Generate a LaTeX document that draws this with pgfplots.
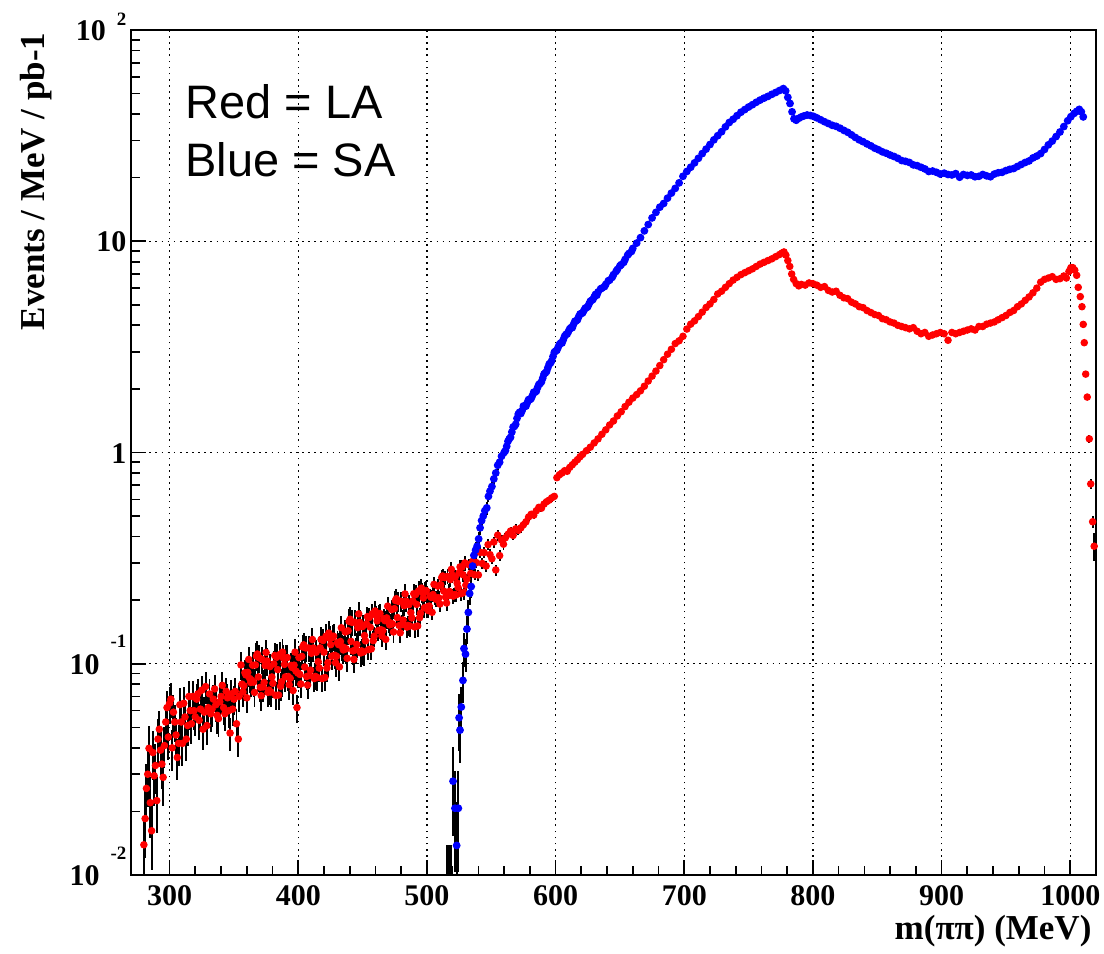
\documentclass[border=0pt]{standalone}
\usepackage{fontspec}
\setmainfont{Liberation Serif}
\newfontfamily\arialfont{Liberation Sans}
\usepackage{pgfplots}
\usepackage{pgfplotstable}
\pgfplotsset{compat=1.18}
\definecolor{rootred}{RGB}{255,0,0}
\definecolor{rootblue}{RGB}{0,0,255}
\newcommand\tickfont{\fontsize{10.8pt}{12pt}\selectfont\bfseries}
\newcommand\expfont{\fontsize{6.8pt}{7pt}\selectfont\bfseries}

% LA (red): mass, events, relative error
\pgfplotstableread{
x y e
280 0.0139 0.35
281 0.0185 0.35
282 0.0257 0.30
283 0.0300 0.30
284 0.0398 0.28
285 0.0220 0.32
286 0.0162 0.35
287 0.0380 0.26
288 0.0295 0.28
289 0.0330 0.27
290 0.0225 0.30
291 0.0440 0.24
292 0.0490 0.22
293 0.0390 0.25
294 0.0335 0.24
295 0.0290 0.27
296 0.0410 0.22
297 0.0530 0.21
298 0.0620 0.20
299 0.0450 0.22
300 0.0650 0.20
301 0.0680 0.19
302 0.0400 0.22
303 0.0590 0.20
304 0.0530 0.20
305 0.0460 0.21
306 0.0360 0.22
307 0.0420 0.22
308 0.0640 0.20
309 0.0530 0.20
310 0.0420 0.22
311 0.0650 0.19
312 0.0560 0.20
313 0.0440 0.21
314 0.0510 0.20
315 0.0700 0.18
316 0.0600 0.19
317 0.0520 0.20
318 0.0700 0.18
319 0.0600 0.19
320 0.0560 0.19
321 0.0680 0.18
322 0.0720 0.18
323 0.0540 0.19
324 0.0610 0.19
325 0.0750 0.17
326 0.0490 0.20
327 0.0590 0.18
328 0.0780 0.17
329 0.0510 0.19
330 0.0620 0.18
331 0.0720 0.17
332 0.0580 0.18
333 0.0610 0.18
334 0.0680 0.17
335 0.0760 0.16
336 0.0640 0.17
337 0.0570 0.18
338 0.0550 0.18
339 0.0660 0.17
340 0.0700 0.17
341 0.0790 0.16
342 0.0620 0.17
343 0.0580 0.17
344 0.0740 0.16
345 0.0690 0.16
346 0.0600 0.17
347 0.0470 0.18
348 0.0720 0.16
349 0.0610 0.17
350 0.0680 0.16
351 0.0740 0.16
352 0.0520 0.18
353.4 0.0440 0.18
354 0.0700 0.16
355.5 0.0987 0.15
357 0.0735 0.15
358.5 0.0907 0.15
360 0.0690 0.15
361.5 0.1048 0.15
363 0.0816 0.15
364.5 0.0984 0.15
366 0.0732 0.15
367.5 0.1087 0.15
369 0.0866 0.15
370.5 0.0774 0.15
372 0.1048 0.15
373.5 0.0816 0.15
375 0.1131 0.15
376.5 0.0732 0.15
378 0.0969 0.15
379.5 0.0866 0.15
381 0.0998 0.15
382.5 0.0709 0.15
384 0.0938 0.15
385.5 0.1105 0.15
387 0.0822 0.15
388.5 0.1063 0.15
390 0.0867 0.15
391.5 0.1070 0.15
393 0.0796 0.15
394.5 0.0982 0.15
396 0.0747 0.15
397.5 0.1135 0.15
399 0.0620 0.15
400.5 0.1070 0.14
402 0.0802 0.14
403.5 0.1201 0.14
405 0.0965 0.14
406.5 0.0870 0.14
408 0.1187 0.14
409.5 0.0933 0.14
411 0.1302 0.14
412.5 0.0851 0.14
414 0.1134 0.14
415.5 0.1023 0.14
417 0.1189 0.14
418.5 0.0851 0.14
420 0.1135 0.14
421.5 0.1349 0.14
423 0.1012 0.14
424.5 0.1319 0.14
426 0.1085 0.14
427.5 0.1350 0.14
429 0.1012 0.14
430.5 0.1260 0.14
432 0.0967 0.14
433.5 0.1481 0.14
435 0.1163 0.14
436.5 0.1414 0.14
438 0.1061 0.14
439.5 0.1587 0.14
441 0.1276 0.14
442.5 0.1150 0.14
444 0.1570 0.14
445.5 0.1233 0.14
447 0.1722 0.14
448.5 0.1125 0.14
450 0.1500 0.14
451.5 0.1360 0.11
453 0.1545 0.11
454.5 0.1165 0.11
456 0.1488 0.11
457.5 0.1725 0.11
459 0.1351 0.11
460.5 0.1694 0.11
462 0.1434 0.11
463.5 0.1729 0.11
465 0.1354 0.11
466.5 0.1632 0.11
468 0.1304 0.11
469.5 0.1874 0.11
471 0.1527 0.11
472.5 0.1805 0.11
474 0.1414 0.11
475.5 0.1992 0.11
477 0.1655 0.11
478.5 0.1517 0.11
480 0.1977 0.11
481.5 0.1611 0.11
483 0.2140 0.11
484.5 0.1491 0.11
486 0.1905 0.11
487.5 0.1746 0.11
489 0.1984 0.11
490.5 0.1495 0.11
492 0.1910 0.11
493.5 0.2213 0.11
495 0.1734 0.11
496.5 0.2173 0.11
498 0.1841 0.11
499.5 0.2219 0.11
501 0.1786 0.08
502.5 0.2095 0.08
504 0.1752 0.08
505.5 0.2376 0.08
507 0.2019 0.08
508.5 0.2331 0.08
510 0.1918 0.08
511.5 0.2559 0.08
513 0.2210 0.08
514.5 0.2069 0.08
516 0.2588 0.08
517.5 0.2200 0.08
519 0.2797 0.08
520.5 0.2090 0.08
522 0.2573 0.08
523.5 0.2408 0.08
525 0.2692 0.08
526.5 0.2145 0.08
528 0.2641 0.08
529.5 0.3000 0.08
531 0.2518 0.06
532.5 0.2945 0.06
534 0.2677 0.06
535.5 0.3054 0.06
537 0.2638 0.06
538.5 0.3010 0.06
540 0.2633 0.06
541.5 0.3366 0.06
543 0.2983 0.06
544.5 0.3360 0.06
546 0.2902 0.06
547.5 0.3664 0.06
549 0.3287 0.06
550.5 0.3142 0.06
552 0.3771 0.06
553.5 0.2780 0.06
555 0.4062 0.06
556.5 0.3251 0.06
558 0.3853 0.06
559.5 0.3682 0.06
561 0.3950 0.05
563 0.4100 0.05
565 0.4250 0.05
567 0.4050 0.05
569 0.4350 0.05
571 0.4280 0.05
573 0.4400 0.05
575 0.4550 0.04
577 0.4700 0.04
579 0.4950 0.04
581 0.5100 0.04
583 0.5050 0.04
585 0.5300 0.04
587 0.5500 0.04
589 0.5450 0.04
591 0.5700 0.04
593 0.5850 0.04
595 0.5950 0.04
597 0.6100 0.04
599 0.6200 0.04
601 0.7600 0.03
603 0.7850 0.03
605 0.8000 0.03
607 0.8200 0.03
609 0.8150 0.03
611 0.8500 0.03
613 0.8750 0.03
615 0.9000 0.03
617 0.9250 0.03
619 0.9550 0.03
621 0.9800 0.03
624 1.0200 0.025
627 1.0600 0.025
630 1.1100 0.025
633 1.1600 0.025
636 1.2200 0.025
639 1.2800 0.025
642 1.3500 0.02
645 1.4100 0.02
648 1.4900 0.02
651 1.5600 0.02
654 1.6500 0.02
657 1.7300 0.02
660 1.8100 0.02
663 1.8800 0.02
666 1.9600 0.02
669 2.0600 0.02
672 2.1800 0.02
675 2.3000 0.02
678 2.4300 0.02
681 2.5800 0.02
684 2.7500 0.02
687 2.9200 0.02
690 3.0800 0.015
693 3.2800 0.015
696 3.3800 0.015
699 3.5500 0.015
702 3.8400 0.015
705 4.0500 0.015
708 4.2000 0.015
711 4.4000 0.015
714 4.6200 0.015
717 4.8600 0.015
720 5.0500 0.015
723 5.3000 0.015
726 5.6300 0.015
729 5.8000 0.015
732 6.0500 0.015
735 6.3000 0.015
738 6.5500 0.015
741 6.7500 0.015
744 6.9500 0.015
747 7.1000 0.015
750 7.2500 0.015
753 7.4000 0.015
756 7.6000 0.015
759 7.8000 0.015
762 7.9500 0.015
765 8.1000 0.015
768 8.2500 0.015
771 8.4500 0.015
774 8.6500 0.015
776 8.8000 0.015
777.5 8.9000 0.015
779 8.6000 0.015
780.5 8.1000 0.015
782 7.6000 0.015
783.5 7.0000 0.015
785 6.6000 0.015
787 6.3000 0.015
789 6.1500 0.015
791 6.2500 0.015
794 6.2000 0.015
797 6.3500 0.015
800 6.3000 0.015
803 6.2000 0.015
806 6.0500 0.015
809 6.1000 0.015
812 5.8500 0.015
815 5.7500 0.015
818 5.8000 0.015
821 5.5500 0.015
824 5.4000 0.015
827 5.3500 0.015
830 5.1500 0.015
833 5.0500 0.015
836 4.9000 0.015
839 4.8500 0.015
842 4.7000 0.015
845 4.6000 0.015
848 4.5000 0.015
851 4.4500 0.015
854 4.3000 0.015
857 4.2500 0.015
860 4.1500 0.015
863 4.1000 0.015
866 4.0000 0.015
869 3.9500 0.015
872 3.9000 0.015
875 3.8500 0.015
878 3.9000 0.015
881 3.7500 0.015
884 3.6500 0.015
887 3.7000 0.015
890 3.5500 0.015
893 3.6000 0.015
896 3.6500 0.015
899 3.7000 0.015
902 3.6500 0.015
905 3.4000 0.015
908 3.7000 0.015
911 3.6500 0.015
914 3.7000 0.015
917 3.7500 0.015
920 3.8000 0.015
923 3.8500 0.015
926 3.8000 0.015
929 3.9500 0.015
932 3.9500 0.015
935 4.0500 0.015
938 4.1000 0.015
941 4.1500 0.015
944 4.2500 0.015
947 4.3500 0.015
950 4.4500 0.015
953 4.6000 0.015
956 4.7000 0.015
959 4.9000 0.015
962 5.0500 0.015
965 5.2500 0.015
968 5.4500 0.015
971 5.7000 0.015
974 6.0000 0.015
977 6.4000 0.015
980 6.6000 0.015
983 6.7000 0.015
986 6.8000 0.015
989 6.6000 0.015
992 6.6500 0.015
995 6.8500 0.015
997 6.7000 0.015
999 7.2000 0.015
1000.5 7.5000 0.015
1002 7.5000 0.015
1003.5 7.3000 0.015
1005 6.9000 0.015
1006.2 6.0500 0.02
1007.8 5.4700 0.02
1009.1 4.9000 0.02
1010.1 4.0400 0.02
1010.9 3.3100 0.02
1012 2.3500 0.03
1013.2 1.8300 0.03
1014.8 1.1600 0.04
1015.9 0.7100 0.05
1017.4 0.4700 0.07
1018.6 0.3600 0.15
}\redtab

% LA (red), interleaved bins 356-531
\pgfplotstableread{
x y e
356.25 0.0801 0.15
357.75 0.0787 0.15
359.25 0.0886 0.15
360.75 0.0910 0.15
362.25 0.0852 0.15
363.75 0.0836 0.15
365.25 0.0818 0.15
366.75 0.0987 0.15
368.25 0.1112 0.15
369.75 0.1065 0.15
371.25 0.0706 0.15
372.75 0.0777 0.15
374.25 0.0981 0.15
375.75 0.1031 0.15
377.25 0.0750 0.15
378.75 0.0735 0.15
380.25 0.0808 0.15
381.75 0.1094 0.15
383.25 0.1073 0.15
384.75 0.0711 0.15
386.25 0.0782 0.15
387.75 0.1135 0.15
389.25 0.0993 0.15
390.75 0.1066 0.15
392.25 0.0870 0.15
393.75 0.0853 0.15
395.25 0.0960 0.15
396.75 0.0985 0.15
398.25 0.0922 0.15
399.75 0.0904 0.15
401.25 0.0890 0.14
402.75 0.1083 0.14
404.25 0.1229 0.14
405.75 0.1188 0.14
407.25 0.0793 0.14
408.75 0.0881 0.14
410.25 0.1121 0.14
411.75 0.1187 0.14
413.25 0.0871 0.14
414.75 0.0861 0.14
416.25 0.0954 0.14
417.75 0.1303 0.14
419.25 0.1288 0.14
420.75 0.0861 0.14
422.25 0.0955 0.14
423.75 0.1397 0.14
425.25 0.1232 0.14
426.75 0.1334 0.14
428.25 0.1097 0.14
429.75 0.1085 0.14
431.25 0.1232 0.14
432.75 0.1275 0.14
434.25 0.1204 0.14
435.75 0.1191 0.14
437.25 0.1177 0.14
438.75 0.1432 0.14
440.25 0.1625 0.14
441.75 0.1570 0.14
443.25 0.1049 0.14
444.75 0.1165 0.14
446.25 0.1482 0.14
447.75 0.1570 0.14
449.25 0.1151 0.14
450.75 0.1138 0.14
452.25 0.1283 0.11
453.75 0.1671 0.11
455.25 0.1656 0.11
456.75 0.1176 0.11
458.25 0.1286 0.11
459.75 0.1778 0.11
461.25 0.1596 0.11
462.75 0.1712 0.11
464.25 0.1450 0.11
465.75 0.1437 0.11
467.25 0.1601 0.11
468.75 0.1649 0.11
470.25 0.1573 0.11
471.75 0.1558 0.11
473.25 0.1544 0.11
474.75 0.1824 0.11
476.25 0.2032 0.11
477.75 0.1973 0.11
479.25 0.1402 0.11
480.75 0.1533 0.11
482.25 0.1883 0.11
483.75 0.1980 0.11
485.25 0.1520 0.11
486.75 0.1508 0.11
488.25 0.1647 0.11
489.75 0.2145 0.11
491.25 0.2127 0.11
492.75 0.1510 0.11
494.25 0.1651 0.11
495.75 0.2281 0.11
497.25 0.2049 0.11
498.75 0.2197 0.11
500.25 0.1861 0.11
501.75 0.1876 0.08
503.25 0.2061 0.08
504.75 0.2127 0.08
506.25 0.2056 0.08
507.75 0.2052 0.08
509.25 0.2050 0.08
510.75 0.2366 0.08
512.25 0.2603 0.08
513.75 0.2557 0.08
515.25 0.1940 0.08
516.75 0.2100 0.08
518.25 0.2504 0.08
519.75 0.2624 0.08
521.25 0.2124 0.08
522.75 0.2121 0.08
524.25 0.2296 0.08
525.75 0.2872 0.08
527.25 0.2866 0.08
528.75 0.2178 0.08
530.25 0.2355 0.08
}\redtabB

% SA (blue): mass, events, relative error
\pgfplotstableread{
x y e
520.3 0.0278 0.45
521.8 0.0207 0.50
523.1 0.0138 0.60
524.4 0.0207 0.50
525.0 0.0555 0.30
525.7 0.0485 0.30
526.7 0.0624 0.25
528.0 0.0834 0.22
528.8 0.1180 0.18
530.0 0.1110 0.18
531.1 0.1460 0.15
532.2 0.1750 0.14
533.2 0.2150 0.12
534.4 0.2320 0.12
535.5 0.2900 0.10
536.5 0.3260 0.10
537.8 0.3450 0.09
539.0 0.3600 0.09
540.2 0.3900 0.08
541.3 0.4400 0.08
542.5 0.4760 0.07
543.8 0.5000 0.07
545.0 0.5300 0.07
546.5 0.5470 0.07
547.8 0.6200 0.06
549.0 0.6560 0.06
550.5 0.6900 0.06
552.0 0.7500 0.05
553.5 0.8000 0.05
555.0 0.8700 0.05
556.5 0.9000 0.05
558 0.96 0.05
560 1.00 0.04
561 1.02 0.04
562 1.07 0.04
563 1.13 0.04
564 1.16 0.04
565 1.18 0.04
566 1.25 0.04
567 1.32 0.04
568 1.33 0.04
569 1.36 0.04
570 1.45 0.04
571 1.52 0.04
572 1.55 0.035
573 1.53 0.035
574 1.58 0.035
575 1.66 0.035
576 1.65 0.035
577 1.66 0.035
578 1.72 0.035
579 1.78 0.035
580 1.78 0.035
581 1.80 0.035
582 1.86 0.03
583 1.93 0.03
584 1.93 0.03
585 1.95 0.03
586 2.03 0.03
587 2.10 0.03
588 2.12 0.03
589 2.16 0.03
590 2.25 0.03
591 2.35 0.03
592 2.38 0.03
593 2.42 0.03
594 2.52 0.03
595 2.62 0.03
596 2.65 0.03
597 2.72 0.03
598 2.85 0.03
599 2.98 0.03
600 3.02 0.03
601 3.05 0.03
602 3.15 0.025
603 3.25 0.025
604 3.30 0.025
605 3.30 0.025
606 3.42 0.025
607 3.55 0.025
608 3.62 0.025
609 3.64 0.025
610 3.74 0.025
611 3.85 0.025
612 3.90 0.025
613 3.90 0.025
614 4.05 0.025
615 4.18 0.025
616 4.20 0.025
617 4.25 0.025
618 4.40 0.025
619 4.52 0.025
620 4.55 0.02
621 4.58 0.02
622 4.70 0.02
623 4.82 0.02
624 4.85 0.02
625 4.90 0.02
626 5.05 0.02
627 5.20 0.02
628 5.25 0.02
629 5.30 0.02
630 5.45 0.02
631 5.60 0.02
632 5.55 0.02
633 5.75 0.02
635 5.95 0.02
636 6.00 0.02
638 6.10 0.02
639 6.25 0.02
641 6.50 0.02
642 6.55 0.02
644 6.75 0.02
645 6.95 0.02
647 7.20 0.02
648 7.35 0.02
650 7.65 0.02
651 7.75 0.02
653 7.95 0.02
654 8.20 0.02
656 8.60 0.02
657 8.75 0.02
659 8.95 0.02
660 9.25 0.02
663 9.80 0.02
666 10.4 0.02
669 11.2 0.02
672 12.0 0.015
675 12.9 0.015
678 13.7 0.015
681 14.5 0.015
684 15.1 0.015
687 16.0 0.015
690 16.9 0.015
693 17.8 0.015
696 18.9 0.015
699 20.3 0.015
702 21.4 0.015
705 22.4 0.015
708 23.5 0.015
711 24.7 0.015
714 26.0 0.015
717 27.3 0.015
720 28.7 0.015
723 30.2 0.015
726 31.6 0.015
729 33.0 0.015
732 34.8 0.015
735 36.5 0.015
738 37.8 0.015
741 39.3 0.015
744 40.8 0.015
747 42.0 0.015
750 43.2 0.015
753 44.3 0.015
756 45.5 0.015
759 46.6 0.015
762 47.6 0.015
765 48.5 0.015
768 49.6 0.015
771 50.6 0.015
774 51.7 0.015
777 52.8 0.015
778.8 51.5 0.015
780.5 48.0 0.015
782.2 44.9 0.015
783.8 41.0 0.015
785.3 38.0 0.015
787 37.4 0.015
789 38.2 0.015
791 38.8 0.015
793 39.2 0.015
795.5 39.6 0.015
798 39.4 0.015
800.5 39.0 0.015
803 38.4 0.015
806 37.6 0.015
809 36.8 0.015
812 36.1 0.015
815 35.4 0.015
818 35.0 0.015
821 34.3 0.015
824 33.5 0.015
827 32.8 0.015
830 31.9 0.015
833 31.0 0.015
836 30.2 0.015
839 29.6 0.015
842 28.9 0.015
845 28.3 0.015
848 27.6 0.015
851 27.1 0.015
854 26.5 0.015
857 26.1 0.015
860 25.6 0.015
863 25.2 0.015
866 24.7 0.015
869 24.1 0.015
872 23.9 0.015
875 23.6 0.015
878 23.0 0.015
881 22.8 0.015
884 22.4 0.015
887 22.0 0.015
890 21.4 0.015
893 21.5 0.015
896 21.2 0.015
899 20.8 0.015
902 21.0 0.015
905 20.7 0.015
908 20.6 0.015
911 20.9 0.015
914 20.1 0.015
917 20.7 0.015
920 20.5 0.015
923 20.6 0.015
926 20.2 0.015
929 20.3 0.015
932 20.7 0.015
935 20.4 0.015
938 20.2 0.015
941 20.8 0.015
944 21.1 0.015
947 21.2 0.015
950 21.6 0.015
953 21.9 0.015
956 22.1 0.015
959 22.6 0.015
962 23.1 0.015
965 23.6 0.015
968 24.0 0.015
971 24.8 0.015
974 25.3 0.015
977 26.0 0.015
980 27.2 0.015
983 28.6 0.015
986 29.8 0.015
989 31.3 0.015
992 32.9 0.015
995 34.9 0.015
998 37.2 0.015
1000.5 38.9 0.015
1003 40.3 0.015
1005 41.2 0.015
1007 42.1 0.015
1008.6 41.0 0.015
1010.1 38.8 0.015
}\bluetab

\begin{document}
\begin{tikzpicture}
\path[use as bounding box] (-47.16pt,-28.44pt) rectangle (350.28pt,315pt);
\begin{axis}[
  name=ax, at={(0,0)}, anchor=south west,
  scale only axis, width=347.4pt, height=304.2pt,
  xmin=270, xmax=1020,
  ymode=log, ymin=0.01, ymax=100,
  xtick={300,400,...,1000},
  xticklabels={300,400,500,600,700,800,900,1000},
  minor xtick={300,320,...,1000},
  ytick={0.01,0.1,1,10,100},
  yticklabels={
    {10\hspace{3.96pt}\raisebox{9.4pt}{\expfont -2}},
    {10\hspace{3.96pt}\raisebox{9.6pt}{\expfont -1}},
    {1\hspace{7.2pt}},
    {10\hspace{7.2pt}},
    {10\hspace{3.96pt}\raisebox{5.65pt}{\expfont 2}}},
  xtick pos=bottom, ytick pos=left,
  tick align=inside,
  major tick length=5.5pt, minor tick length=3.2pt,
  every tick/.style={black, line width=0.6pt},
  axis line style={black, line width=0.8pt},
  grid=major,
  major grid style={black, line width=0.45pt, dash pattern=on 0.6pt off 1.6pt},
  xticklabel style={font=\tickfont, anchor=base, inner sep=0pt, yshift=-10.8pt},
  yticklabel style={font=\tickfont, anchor=base east, inner sep=0pt, xshift=-1.44pt, yshift=-3.85pt},
]
% LA
\addplot[only marks, mark=*, mark size=1.15pt, color=rootred,
  error bars/.cd, y dir=both, y explicit relative, error mark=none,
  error bar style={line width=0.7pt, black}]
  table[x=x, y=y, y error=e] {\redtab};
\addplot[only marks, mark=*, mark size=1.15pt, color=rootred,
  error bars/.cd, y dir=both, y explicit relative, error mark=none,
  error bar style={line width=0.7pt, black}]
  table[x=x, y=y, y error=e] {\redtabB};
% SA empty bins (error bars only)
\addplot[only marks, mark=none,
  error bars/.cd, y dir=both, y explicit, error mark=none,
  error bar style={line width=0.7pt, black}]
  coordinates {
  (515.6,0.005) += (0,0.0088) -= (0,0.004)
  (517.2,0.005) += (0,0.0088) -= (0,0.004)
  (518.6,0.005) += (0,0.0088) -= (0,0.004)
  };
% SA
\addplot[only marks, mark=*, mark size=1.2pt, color=rootblue,
  error bars/.cd, y dir=both, y explicit relative, error mark=none,
  error bar style={line width=0.7pt, black}]
  table[x=x, y=y, y error=e] {\bluetab};
\end{axis}
\node[anchor=base west, inner sep=0pt, font={\arialfont\fontsize{16.9pt}{20pt}\selectfont}]
  at ([shift={(19.44pt,272.4pt)}]ax.south west) {Red = LA};
\node[anchor=base west, inner sep=0pt, font={\arialfont\fontsize{16.9pt}{20pt}\selectfont}]
  at ([shift={(19.44pt,251.4pt)}]ax.south west) {Blue = SA};
\node[rotate=90, anchor=base east, inner sep=0pt, font={\fontsize{12.6pt}{14pt}\selectfont\bfseries}]
  at ([shift={(-30.96pt,-0.8pt)}]ax.north west) {Events / MeV / pb-1};
\node[anchor=base east, inner sep=0pt, font={\fontsize{12.6pt}{14pt}\selectfont\bfseries}]
  at ([shift={(-1.44pt,-23.4pt)}]ax.south east) {m(ππ) (MeV)};
\end{tikzpicture}
\end{document}
